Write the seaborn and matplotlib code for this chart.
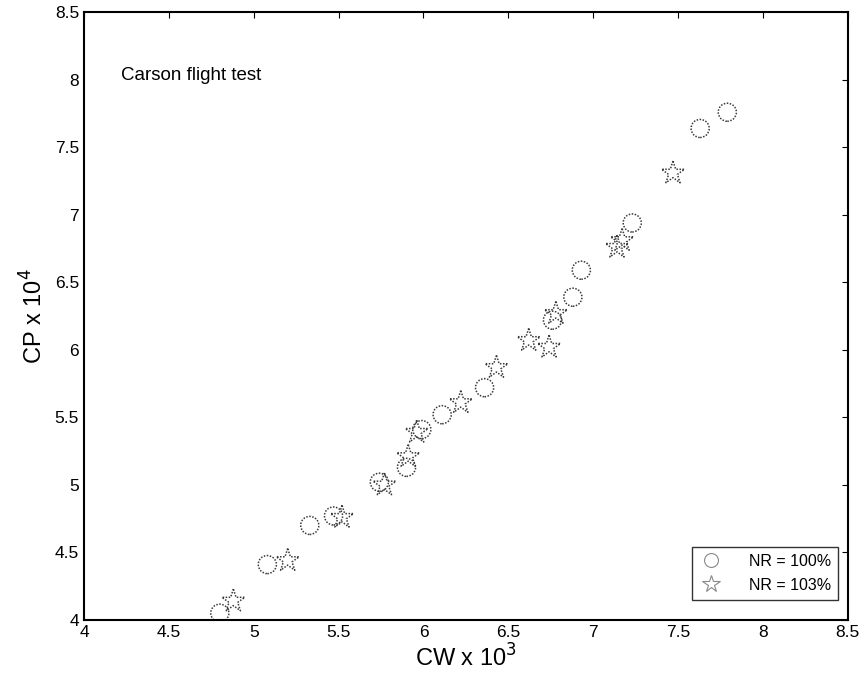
import matplotlib
matplotlib.use("Agg")
import matplotlib.pyplot as plt
import seaborn as sns
import pandas as pd
from matplotlib.lines import Line2D

# NR = 100% (circles)
cw_100 = [4.80, 5.08, 5.33, 5.47, 5.74, 5.90, 5.99, 6.11, 6.36, 6.76, 6.88, 6.93, 7.23, 7.63, 7.79]
cp_100 = [4.05, 4.41, 4.70, 4.77, 5.02, 5.13, 5.41, 5.52, 5.72, 6.22, 6.39, 6.59, 6.94, 7.64, 7.76]
# NR = 103% (stars)
cw_103 = [4.88, 5.20, 5.52, 5.77, 5.91, 5.96, 6.22, 6.43, 6.62, 6.74, 6.78, 7.14, 7.17, 7.47]
cp_103 = [4.14, 4.44, 4.76, 5.00, 5.21, 5.39, 5.61, 5.87, 6.07, 6.02, 6.27, 6.76, 6.81, 7.31]

labels = ["NR = 100%", "NR = 103%"]
ticks = [4, 4.5, 5, 5.5, 6, 6.5, 7, 7.5, 8, 8.5]
tick_labels = ["4", "4.5", "5", "5.5", "6", "6.5", "7", "7.5", "8", "8.5"]

df = pd.DataFrame({
    "CW": cw_100 + cw_103,
    "CP": cp_100 + cp_103,
    "NR": [labels[0]] * len(cw_100) + [labels[1]] * len(cw_103),
})

sns.set_style("white")
plt.rcParams["font.family"] = ["Liberation Sans", "DejaVu Sans"]
plt.rcParams["text.color"] = "black"
plt.rcParams["axes.labelcolor"] = "black"

fig = plt.figure(figsize=(8.66, 6.85), dpi=100)
ax = fig.add_axes([0.097, 0.095, 0.882, 0.887])

edge = "#3a3a3a"
sns.scatterplot(data=df, x="CW", y="CP", style="NR", hue="NR",
                markers={labels[0]: "o", labels[1]: "*"},
                palette={labels[0]: edge, labels[1]: edge},
                s=170, linewidth=1.1, ax=ax, legend=False)
sizes = [170] * len(cw_100) + [300] * len(cw_103)
for coll in ax.collections:
    coll.set_facecolor("none")
    coll.set_edgecolor(edge)
    coll.set_linestyle((0, (1, 1)))
    coll.set_sizes(sizes)

ax.set_xlim(4, 8.5)
ax.set_ylim(4, 8.5)
ax.set_xticks(ticks)
ax.set_xticklabels(tick_labels)
ax.set_yticks(ticks)
ax.set_yticklabels(tick_labels)
ax.tick_params(direction="in", length=4, width=0.8, labelsize=12.5, top=True, right=True,
               colors="black")
for sp in ax.spines.values():
    sp.set_color("black")
    sp.set_linewidth(1.5)

ax.set_xlabel("CW x 10$^3$", fontsize=17, labelpad=3)
ax.set_ylabel("CP x 10$^4$", fontsize=17, labelpad=5)

ax.text(4.22, 8.0, "Carson flight test", fontsize=13.5, va="baseline")

handles = [Line2D([], [], marker="o", linestyle="none", markerfacecolor="none",
                  markeredgecolor="#888888", markersize=10, markeredgewidth=0.8),
           Line2D([], [], marker="*", linestyle="none", markerfacecolor="none",
                  markeredgecolor="#888888", markersize=13, markeredgewidth=0.8)]
leg = ax.legend(handles, labels, loc="lower right", bbox_to_anchor=(0.987, 0.033),
                borderaxespad=0, frameon=True, fancybox=False, fontsize=11.5,
                handletextpad=1.6, borderpad=0.45, labelspacing=0.55, handlelength=1.5)
leg.get_frame().set_edgecolor("black")
leg.get_frame().set_linewidth(1.0)

fig.savefig("out.png", dpi=100)
